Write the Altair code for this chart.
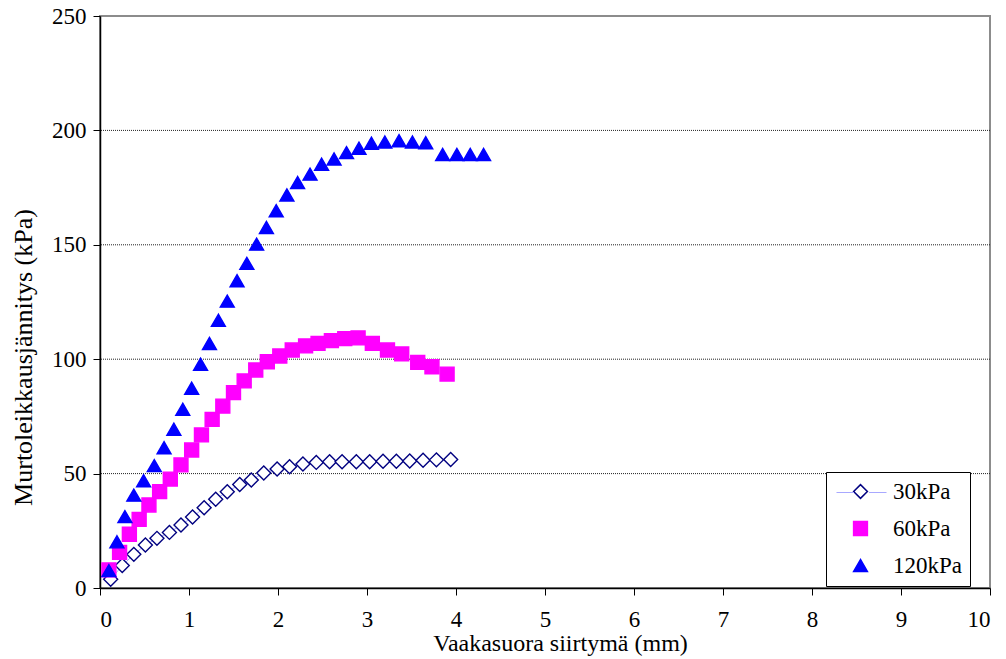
import altair as alt
import pandas as pd

# Direct shear test: horizontal displacement (mm) vs. shear stress at failure (kPa)
disp_30 = [0.12, 0.25, 0.38, 0.51, 0.64, 0.78, 0.91, 1.04, 1.17, 1.30, 1.43, 1.57, 1.70, 1.84,
           1.99, 2.13, 2.28, 2.43, 2.58, 2.72, 2.88, 3.03, 3.18, 3.33, 3.48, 3.63, 3.78, 3.94]
shear_30 = [3.8, 9.8, 14.7, 18.8, 21.7, 24.3, 27.5, 31.0, 35.1, 38.8, 42.1, 45.2, 47.2, 50.3,
            52.0, 53.0, 54.2, 54.9, 55.2, 55.2, 55.2, 55.2, 55.4, 55.4, 55.5, 55.8, 56.0, 56.2]

disp_60 = [0.10, 0.22, 0.33, 0.44, 0.55, 0.67, 0.79, 0.91, 1.03, 1.14, 1.26, 1.38, 1.50, 1.62,
           1.75, 1.88, 2.02, 2.16, 2.31, 2.45, 2.60, 2.75, 2.90, 3.06, 3.23, 3.39, 3.57, 3.73, 3.90]
shear_60 = [7.9, 15.6, 23.5, 30.0, 36.3, 42.1, 47.6, 53.8, 60.3, 66.9, 73.7, 79.5, 85.4, 90.5,
            95.3, 98.9, 101.4, 104.0, 105.8, 106.9, 108.1, 109.0, 109.3, 106.9, 104.0, 102.3, 98.6, 96.7, 93.5]

disp_120 = [0.10, 0.19, 0.28, 0.38, 0.49, 0.61, 0.72, 0.83, 0.93, 1.03, 1.13, 1.23, 1.33, 1.43,
            1.54, 1.65, 1.76, 1.87, 1.98, 2.10, 2.22, 2.36, 2.49, 2.63, 2.77, 2.91, 3.05, 3.20,
            3.36, 3.51, 3.66, 3.85, 4.01, 4.16, 4.31]
shear_120 = [7.6, 20.2, 31.2, 40.6, 46.9, 53.5, 61.3, 69.4, 78.1, 87.3, 97.8, 106.9, 117.0, 125.4,
             134.3, 141.9, 150.3, 157.6, 164.9, 171.8, 177.2, 180.9, 185.2, 187.5, 190.3, 192.2, 194.4, 194.9,
             195.5, 194.9, 194.6, 189.5, 189.5, 189.5, 189.5]

series_names = ["30kPa", "60kPa", "120kPa"]
series_shapes = ["diamond", "square", "triangle-up"]
series_fill = ["white", "#ff00ff", "#0000ff"]
series_stroke = ["#000080", "#ff00ff", "#0000ff"]
line_colour = "#a8a8ff"

x_ticks = list(range(0, 11))
y_ticks = [0, 50, 100, 150, 200, 250]
grid_levels = [50, 100, 150, 200]

FONT = "Times New Roman, Liberation Serif, DejaVu Serif, serif"

frames = []
for name, xs, ys in [("30kPa", disp_30, shear_30), ("60kPa", disp_60, shear_60), ("120kPa", disp_120, shear_120)]:
    frames.append(pd.DataFrame({"disp": xs, "shear": ys, "series": name}))
df = pd.concat(frames, ignore_index=True)
df["idx"] = range(len(df))
grid_df = pd.DataFrame({"shear": grid_levels})

x_enc = alt.X(
    "disp:Q",
    scale=alt.Scale(domain=[0, 10], nice=False, zero=True),
    axis=alt.Axis(values=x_ticks, title="Vaakasuora siirtymä (mm)", grid=False,
                  labelPadding=13, titlePadding=0, titleX=460, format="d"),
)
y_enc = alt.Y(
    "shear:Q",
    scale=alt.Scale(domain=[0, 250], nice=False),
    axis=alt.Axis(values=y_ticks, title="Murtoleikkausjännitys (kPa)", grid=False,
                  labelPadding=7, titlePadding=15, titleY=341, titleFontSize=26, format="d"),
)

legend = alt.Legend(
    title=None, orient="none", legendX=726, legendY=456,
    strokeColor="black", fillColor="white", padding=8, cornerRadius=0,
    labelFont=FONT, labelFontSize=23, labelColor="black",
    symbolSize=190, symbolOffset=15, labelOffset=21, rowPadding=13,
    symbolStrokeWidth=1.5, zindex=1,
)

# connecting-line key for the 30kPa entry, split around the diamond symbol
line_key = alt.Legend(
    title=None, orient="none", legendX=736, legendY=451,
    padding=0, symbolType="M-1,0L-0.3,0M0.3,0L1,0", symbolSize=2500,
    symbolStrokeColor=line_colour, symbolStrokeWidth=1, symbolFillColor="transparent",
    labelExpr="''", labelFontSize=1, labelOffset=0, zindex=2,
)

gridlines = alt.Chart(grid_df).mark_rule(color="#222222", strokeDash=[1, 1], strokeWidth=1).encode(
    y=alt.Y("shear:Q")
)

line_30 = alt.Chart(df[df["series"] == "30kPa"]).mark_line(color=line_colour, strokeWidth=1).encode(
    x=x_enc, y=y_enc, order="idx:Q",
    opacity=alt.Opacity("series:N", scale=alt.Scale(domain=["30kPa"], range=[1]), legend=line_key),
)

points = alt.Chart(df).mark_point(opacity=1, strokeWidth=1.4, size=195).encode(
    x=x_enc,
    y=y_enc,
    shape=alt.Shape("series:N", scale=alt.Scale(domain=series_names, range=series_shapes), legend=legend),
    fill=alt.Fill("series:N", scale=alt.Scale(domain=series_names, range=series_fill), legend=legend),
    stroke=alt.Stroke("series:N", scale=alt.Scale(domain=series_names, range=series_stroke), legend=legend),
    order="idx:Q",
)

chart = (
    alt.layer(gridlines, line_30, points)
    .resolve_legend(opacity="independent")
    .properties(
        width=890, height=572,
        autosize=alt.AutoSizeParams(type="none"),
        padding={"left": 100, "top": 16, "right": 16, "bottom": 71},
        background="white",
    )
    .configure_view(stroke="#8c8c8c", strokeWidth=2)
    .configure_axis(
        domainColor="black", domainWidth=1.5, tickColor="black", tickSize=7, tickWidth=1,
        labelFont=FONT, labelFontSize=23, labelColor="black",
        titleFont=FONT, titleFontSize=24, titleFontWeight="normal", titleColor="black",
    )
)

chart.save("out.html", embed_options={"renderer": "svg", "actions": False})
